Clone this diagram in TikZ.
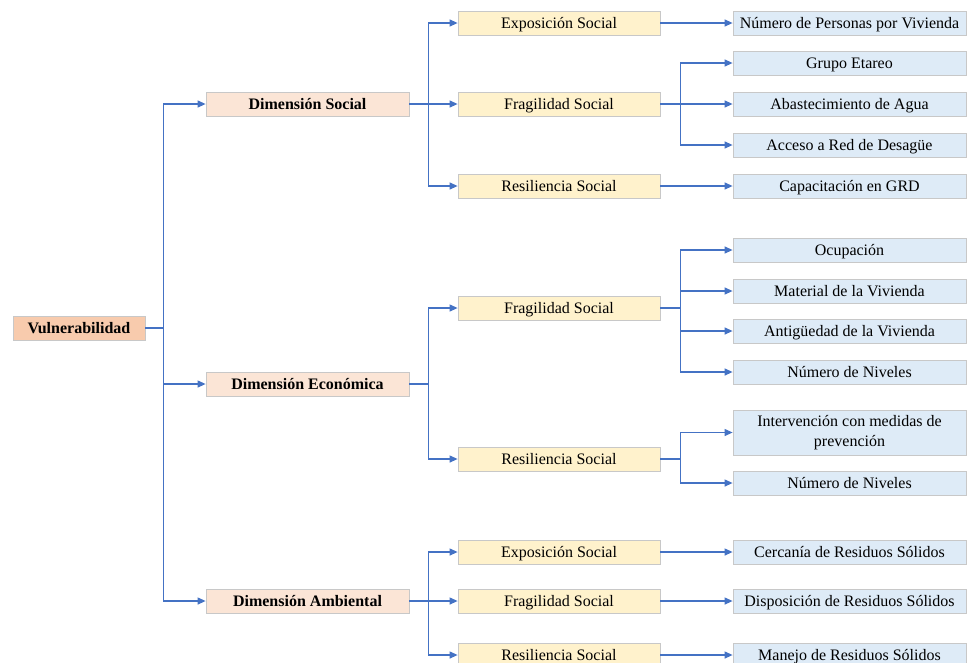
\documentclass[tikz,border=0pt]{standalone}
\usepackage{fontspec}
\setmainfont{Liberation Serif}
\definecolor{clLine}{HTML}{4472C4}
\definecolor{clEdge}{HTML}{C8C8C8}
\definecolor{clRoot}{HTML}{F8CBAD}
\definecolor{clDim}{HTML}{FBE5D6}
\definecolor{clSub}{HTML}{FFF2CC}
\definecolor{clInd}{HTML}{DEEBF7}
\usetikzlibrary{arrows.meta,positioning}
\tikzset{
  box/.style={rectangle, draw=clEdge, line width=0.8pt, align=center,
              inner sep=0pt, minimum height=24pt, text height=14pt, text depth=2.5pt,
              font=\fontsize{16}{20}\selectfont},
  root/.style={box, fill=clRoot, minimum width=132pt, font=\fontsize{16}{20}\selectfont\bfseries},
  dim/.style={box, fill=clDim, minimum width=203pt, font=\fontsize{16}{20}\selectfont\bfseries},
  sub/.style={box, fill=clSub, minimum width=202pt},
  ind/.style={box, fill=clInd, minimum width=233pt},
  flow/.style={-{Triangle[length=8pt,width=7pt]}, line width=1.2pt, draw=clLine},
}
\begin{document}
\begin{tikzpicture}[x=1pt, y=1pt]
  \useasboundingbox (0,0) rectangle (968,-662);
  % root and dimensions
  \node[root] (vul) at (79,-328) {Vulnerabilidad};
  \node[dim] (dsoc) at (307.5,-104) {Dimensión Social};
  \node[dim] (deco) at (307.5,-384) {Dimensión Económica};
  \node[dim] (damb) at (307.5,-601) {Dimensión Ambiental};
  % components
  \node[sub] (sexp) at (559,-23) {Exposición Social};
  \node[sub] (sfra) at (559,-104) {Fragilidad Social};
  \node[sub] (sres) at (559,-186) {Resiliencia Social};
  \node[sub] (efra) at (559,-308) {Fragilidad Social};
  \node[sub] (eres) at (559,-459) {Resiliencia Social};
  \node[sub] (aexp) at (559,-552) {Exposición Social};
  \node[sub] (afra) at (559,-601) {Fragilidad Social};
  \node[sub] (ares) at (559,-655) {Resiliencia Social};
  % indicators
  \node[ind] (personas) at (849.5,-23) {Número de Personas por Vivienda};
  \node[ind] (etareo) at (849.5,-63) {Grupo Etareo};
  \node[ind] (agua) at (849.5,-104) {Abastecimiento de Agua};
  \node[ind] (desague) at (849.5,-145) {Acceso a Red de Desagüe};
  \node[ind] (grd) at (849.5,-186) {Capacitación en GRD};
  \node[ind] (ocup) at (849.5,-250) {Ocupación};
  \node[ind] (material) at (849.5,-291) {Material de la Vivienda};
  \node[ind] (antig) at (849.5,-331) {Antigüedad de la Vivienda};
  \node[ind] (niveles) at (849.5,-372) {Número de Niveles};
  \node[ind, text height=, text depth=, minimum height=45pt] (interv) at (849.5,-432.5)
    {Intervención con medidas de\\prevención};
  \node[ind] (niveles2) at (849.5,-483) {Número de Niveles};
  \node[ind] (cercania) at (849.5,-552) {Cercanía de Residuos Sólidos};
  \node[ind] (dispos) at (849.5,-601) {Disposición de Residuos Sólidos};
  \node[ind] (manejo) at (849.5,-655) {Manejo de Residuos Sólidos};
  % connectors
  \draw[flow] (vul.east) -- ++(18,0) |- (dsoc.west);
  \draw[flow] (vul.east) -- ++(18,0) |- (deco.west);
  \draw[flow] (vul.east) -- ++(18,0) |- (damb.west);
  \draw[flow] (dsoc.east) -- (sfra.west);
  \draw[flow] (dsoc.east) -- ++(19,0) |- (sexp.west); \draw[flow] (dsoc.east) -- ++(19,0) |- (sres.west);
  \draw[flow] (deco.east) -- ++(19,0) |- (efra.west); \draw[flow] (deco.east) -- ++(19,0) |- (eres.west);
  \draw[flow] (damb.east) -- (afra.west);
  \draw[flow] (damb.east) -- ++(19,0) |- (aexp.west); \draw[flow] (damb.east) -- ++(19,0) |- (ares.west);
  \draw[flow] (sexp) -- (personas); \draw[flow] (sres) -- (grd);
  \draw[flow] (aexp) -- (cercania); \draw[flow] (afra) -- (dispos); \draw[flow] (ares) -- (manejo);
  \draw[flow] (sfra.east) -- (agua.west);
  \draw[flow] (sfra.east) -- ++(20,0) |- (etareo.west); \draw[flow] (sfra.east) -- ++(20,0) |- (desague.west);
  \draw[flow] (efra.east) -- ++(20,0) |- (ocup.west); \draw[flow] (efra.east) -- ++(20,0) |- (material.west);
  \draw[flow] (efra.east) -- ++(20,0) |- (antig.west); \draw[flow] (efra.east) -- ++(20,0) |- (niveles.west);
  \draw[flow] (eres.east) -- ++(20,0) |- (interv.west); \draw[flow] (eres.east) -- ++(20,0) |- (niveles2.west);
\end{tikzpicture}
\end{document}
